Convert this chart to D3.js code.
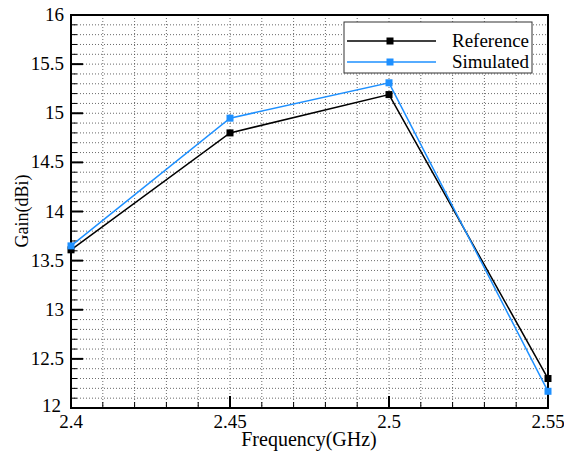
<!DOCTYPE html>
<html>
<head>
<meta charset="utf-8">
<script src="https://cdn.jsdelivr.net/npm/d3@7"></script>
<style>
  body { margin: 0; background: #fff; }
</style>
</head>
<body>
<svg id="chart" width="564" height="451"></svg>
<script>
var freqs = [2.4, 2.45, 2.5, 2.55];
var reference = [13.61, 14.8, 15.19, 12.3];
var simulated = [13.65, 14.95, 15.31, 12.17];
var xTicks = [2.4, 2.45, 2.5, 2.55];
var yTicks = [12, 12.5, 13, 13.5, 14, 14.5, 15, 15.5, 16];

var FONT = "'Liberation Serif', 'Times New Roman', serif";
var m = { left: 71, right: 548, top: 15, bottom: 408 };
var svg = d3.select("#chart");

var x = d3.scaleLinear().domain([2.4, 2.55]).range([m.left, m.right]);
var y = d3.scaleLinear().domain([12, 16]).range([m.bottom, m.top]);

// dotted grid
var g = svg.append("g");
d3.range(1, 15).forEach(i => {
  var xv = x(2.4 + i * 0.01);
  g.append("line").attr("x1", xv).attr("x2", xv).attr("y1", m.top).attr("y2", m.bottom)
    .attr("stroke", "#444").attr("stroke-width", 0.8).attr("stroke-dasharray", "1,2");
});
d3.range(1, 40).forEach(i => {
  var yv = y(12 + i * 0.1);
  g.append("line").attr("x1", m.left).attr("x2", m.right).attr("y1", yv).attr("y2", yv)
    .attr("stroke", "#444").attr("stroke-width", 0.8).attr("stroke-dasharray", "1,2");
});

// inward ticks
d3.range(0, 41).forEach(i => {
  var yv = y(12 + i * 0.1), major = i % 5 === 0;
  svg.append("line").attr("x1", m.left).attr("x2", m.left + (major ? 12 : 6))
    .attr("y1", yv).attr("y2", yv).attr("stroke", "#000").attr("stroke-width", major ? 2 : 1);
});
d3.range(0, 16).forEach(i => {
  var xv = x(2.4 + i * 0.01), major = i % 5 === 0;
  svg.append("line").attr("x1", xv).attr("x2", xv)
    .attr("y1", m.bottom).attr("y2", m.bottom - (major ? 12 : 6))
    .attr("stroke", "#000").attr("stroke-width", major ? 2 : 1);
});

// frame
svg.append("rect").attr("x", m.left).attr("y", m.top)
  .attr("width", m.right - m.left).attr("height", m.bottom - m.top)
  .attr("fill", "none").attr("stroke", "#000").attr("stroke-width", 2);

// tick labels
svg.selectAll(".ylab").data(yTicks).enter().append("text")
  .attr("x", d => d === 12 ? 61 : 64).attr("y", d => y(d) + (d === 12 ? 4 : 6))
  .attr("text-anchor", "end").attr("font-size", 19).style("font-family", FONT).text(d => d);
svg.selectAll(".xlab").data(xTicks).enter().append("text")
  .attr("x", d => x(d)).attr("y", 428)
  .attr("text-anchor", "middle").attr("font-size", 19).style("font-family", FONT).text(d => d);

// axis titles
svg.append("text").attr("x", 309).attr("y", 446).attr("text-anchor", "middle")
  .attr("font-size", 20).style("font-family", FONT).text("Frequency(GHz)");
svg.append("text").attr("transform", "translate(28,211) rotate(-90)")
  .attr("text-anchor", "middle").attr("font-size", 18).style("font-family", FONT).text("Gain(dBi)");

// series
var series = [
  { name: "Reference", values: reference, color: "#000" },
  { name: "Simulated", values: simulated, color: "#1e90ff" }
];
var line = d3.line().x((d, i) => x(freqs[i])).y(d => y(d));
series.forEach(s => {
  svg.append("path").attr("d", line(s.values)).attr("fill", "none")
    .attr("stroke", s.color).attr("stroke-width", 1.5);
  svg.selectAll(null).data(s.values).enter().append("rect")
    .attr("x", (d, i) => x(freqs[i]) - 3.5).attr("y", d => y(d) - 3.5)
    .attr("width", 7).attr("height", 7).attr("fill", s.color);
});

// legend
var lg = svg.append("g");
lg.append("rect").attr("x", 344).attr("y", 22).attr("width", 188).attr("height", 51)
  .attr("fill", "#fff").attr("stroke", "#333").attr("stroke-width", 1);
series.forEach((s, i) => {
  var ly = 41 + i * 21;
  lg.append("line").attr("x1", 347).attr("x2", 436).attr("y1", ly).attr("y2", ly)
    .attr("stroke", s.color).attr("stroke-width", 1.5);
  lg.append("rect").attr("x", 390 - 3.5).attr("y", ly - 3.5).attr("width", 7).attr("height", 7)
    .attr("fill", s.color);
  lg.append("text").attr("x", 529).attr("y", ly + 6).attr("text-anchor", "end")
    .attr("font-size", 19).style("font-family", FONT).text(s.name);
});
</script>
</body>
</html>
